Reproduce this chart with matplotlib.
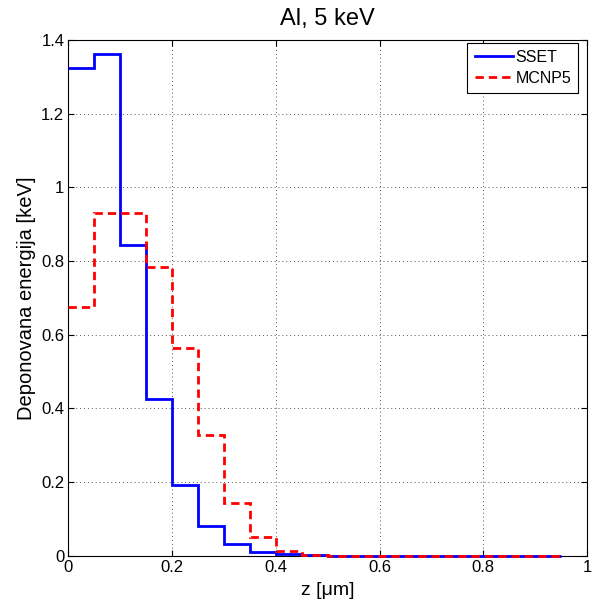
import matplotlib
matplotlib.use("Agg")
import matplotlib.pyplot as plt
import numpy as np

plt.rcParams["font.family"] = ["Liberation Sans", "DejaVu Sans"]

# bin edges in z (um), step 0.05
z_edges = np.round(np.arange(0, 0.951, 0.05), 2)

sset = [1.323, 1.361, 0.843, 0.426, 0.192, 0.081, 0.032, 0.011, 0.005, 0.002,
        0.001, 0.0, 0.0, 0.0, 0.0, 0.0, 0.0, 0.0, 0.0]
mcnp5 = [0.675, 0.929, 0.931, 0.783, 0.563, 0.327, 0.145, 0.051, 0.014, 0.003,
         0.001, 0.0, 0.0, 0.0, 0.0, 0.0, 0.0, 0.0, 0.0]

x_ticks = [0, 0.2, 0.4, 0.6, 0.8, 1]
x_ticklabels = ["0", "0.2", "0.4", "0.6", "0.8", "1"]
y_ticks = [0, 0.2, 0.4, 0.6, 0.8, 1, 1.2, 1.4]
y_ticklabels = ["0", "0.2", "0.4", "0.6", "0.8", "1", "1.2", "1.4"]

fig = plt.figure(figsize=(5.93, 6.03), dpi=100)
ax = fig.add_axes([0.1155, 0.078, 0.8745, 0.856])

# drawn above the spines so the zero tail stays visible on the x axis
ax.stairs(sset, z_edges, color="#0000ff", linewidth=2, label="SSET",
          baseline=None, zorder=3, clip_on=False)
ax.stairs(mcnp5, z_edges, color="#ff0000", linewidth=2, linestyle=(0, (3, 1.8)),
          label="MCNP5", baseline=None, zorder=3, clip_on=False)

ax.set_xlim(0, 1)
ax.set_ylim(0, 1.4)
ax.set_xticks(x_ticks)
ax.set_xticklabels(x_ticklabels)
ax.set_yticks(y_ticks)
ax.set_yticklabels(y_ticklabels)
ax.tick_params(direction="in", top=True, right=True, labelsize=12, length=4, pad=3)
ax.grid(True, linestyle=(0, (1, 3)), color="#555555", linewidth=0.7)
ax.set_axisbelow(True)

ax.set_xlabel("z [\u03bcm]", fontsize=14, labelpad=5)
ax.set_ylabel("Deponovana energija [keV]", fontsize=14.5, labelpad=4)
ax.set_title("Al, 5 keV", fontsize=17, pad=11)

leg = ax.legend(loc="upper right", bbox_to_anchor=(0.983, 0.994),
                fontsize=11.5, fancybox=False, framealpha=1,
                edgecolor="black", handlelength=2.4, handletextpad=0.15,
                borderpad=0.45, labelspacing=0.35, borderaxespad=0)
leg.get_frame().set_linewidth(0.8)
leg.set_zorder(5)

fig.savefig("out.png", dpi=100)
